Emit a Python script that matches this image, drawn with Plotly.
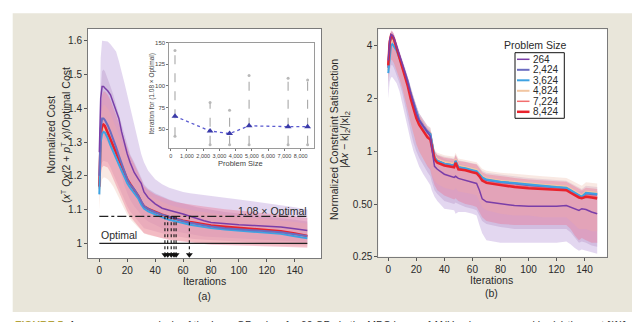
import plotly.graph_objects as go

FONT = "Liberation Sans, Arial, sans-serif"
TXT = "#2a2a2a"

# ---------------- data ----------------
sizes = ["264", "2,424", "3,624", "4,824", "7,224", "8,424"]
size_vals = [264, 2424, 3624, 4824, 7224, 8424]
colors = ["#7a3ea8", "#6a6cc0", "#3ea2e2", "#f2c6a2", "#f26e6e", "#e8222c"]
widths = [1.5, 2.0, 2.0, 2.0, 1.5, 2.5]

# panel (a): normalized cost
ia = [0, 1, 2, 3, 4, 6, 8, 10, 12, 14, 16, 18, 20, 22, 25, 28, 30, 32, 35, 40,
      45, 50, 55, 60, 65, 70, 75, 80, 90, 100, 110, 120, 130, 140, 149]
a_264 = [1.27, 1.43, 1.465, 1.465, 1.46, 1.452, 1.44, 1.415, 1.395, 1.37, 1.33, 1.295, 1.265, 1.24, 1.21,
         1.19, 1.178, 1.152, 1.135, 1.117, 1.104, 1.098, 1.093, 1.087, 1.08, 1.073, 1.067, 1.062, 1.058, 1.055,
         1.053, 1.051, 1.048, 1.043, 1.038]
a_2424 = [1.2, 1.34, 1.37, 1.37, 1.365, 1.35, 1.33, 1.31, 1.285, 1.26, 1.235, 1.21, 1.19, 1.175, 1.16,
          1.14, 1.125, 1.11, 1.102, 1.092, 1.085, 1.078, 1.072, 1.066, 1.061, 1.057, 1.053, 1.05, 1.045, 1.042,
          1.039, 1.036, 1.033, 1.027, 1.022]
a_3624 = [1.145, 1.3, 1.325, 1.33, 1.328, 1.312, 1.29, 1.27, 1.25, 1.232, 1.215, 1.197, 1.178, 1.165, 1.15,
          1.132, 1.115, 1.103, 1.095, 1.085, 1.077, 1.07, 1.064, 1.06, 1.055, 1.051, 1.048, 1.045, 1.041, 1.038,
          1.035, 1.032, 1.028, 1.021, 1.015]
a_4824 = [1.16, 1.31, 1.34, 1.34, 1.336, 1.32, 1.298, 1.278, 1.258, 1.24, 1.222, 1.204, 1.185, 1.171, 1.155,
          1.136, 1.119, 1.107, 1.099, 1.089, 1.081, 1.074, 1.068, 1.063, 1.058, 1.054, 1.05, 1.047, 1.043, 1.04,
          1.037, 1.034, 1.03, 1.024, 1.018]
a_7224 = [1.165, 1.315, 1.345, 1.347, 1.343, 1.325, 1.302, 1.282, 1.262, 1.243, 1.226, 1.208, 1.188, 1.175, 1.158,
          1.139, 1.121, 1.109, 1.101, 1.092, 1.084, 1.077, 1.071, 1.066, 1.062, 1.058, 1.055, 1.052, 1.048, 1.045,
          1.042, 1.039, 1.035, 1.028, 1.021]
a_8424 = [1.168, 1.32, 1.35, 1.352, 1.348, 1.328, 1.305, 1.285, 1.265, 1.245, 1.228, 1.21, 1.19, 1.177, 1.16,
          1.14, 1.122, 1.11, 1.102, 1.093, 1.085, 1.078, 1.072, 1.067, 1.063, 1.059, 1.056, 1.053, 1.049, 1.046,
          1.043, 1.04, 1.036, 1.029, 1.022]
a_264_hi = [1.3, 1.55, 1.6, 1.6, 1.6, 1.598, 1.59, 1.58, 1.568, 1.54, 1.51, 1.475, 1.44, 1.405, 1.35,
            1.3, 1.265, 1.24, 1.215, 1.19, 1.175, 1.165, 1.158, 1.152, 1.148, 1.145, 1.142, 1.14, 1.135, 1.13,
            1.125, 1.12, 1.113, 1.107, 1.1]
a_264_lo = [1.2, 1.3, 1.32, 1.32, 1.31, 1.3, 1.285, 1.27, 1.25, 1.23, 1.2, 1.17, 1.15, 1.13, 1.11,
            1.095, 1.085, 1.075, 1.065, 1.055, 1.045, 1.04, 1.035, 1.03, 1.027, 1.024, 1.02, 1.018, 1.015, 1.013,
            1.011, 1.01, 1.008, 1.006, 1.004]
a_2424_hi = [1.22, 1.45, 1.51, 1.515, 1.51, 1.49, 1.465, 1.44, 1.41, 1.38, 1.35, 1.32, 1.29, 1.265, 1.24,
             1.215, 1.195, 1.175, 1.162, 1.148, 1.138, 1.13, 1.124, 1.118, 1.112, 1.107, 1.103, 1.099, 1.093, 1.088,
             1.084, 1.08, 1.076, 1.07, 1.065]
a_2424_lo = [1.17, 1.22, 1.24, 1.245, 1.245, 1.24, 1.225, 1.21, 1.19, 1.17, 1.15, 1.13, 1.11, 1.095, 1.08,
             1.065, 1.055, 1.045, 1.04, 1.035, 1.03, 1.025, 1.02, 1.017, 1.014, 1.012, 1.01, 1.008, 1.006, 1.004,
             1.002, 1.0, 0.998, 0.996, 0.994]
a_4824_hi = [1.18, 1.36, 1.4, 1.41, 1.41, 1.4, 1.385, 1.365, 1.345, 1.322, 1.3, 1.278, 1.255, 1.238, 1.215,
             1.192, 1.172, 1.155, 1.145, 1.132, 1.122, 1.114, 1.108, 1.103, 1.099, 1.095, 1.092, 1.089, 1.084, 1.08,
             1.076, 1.073, 1.069, 1.063, 1.058]
a_4824_lo = [1.1, 1.17, 1.19, 1.195, 1.195, 1.19, 1.18, 1.168, 1.152, 1.135, 1.118, 1.1, 1.085, 1.072, 1.06,
             1.048, 1.038, 1.03, 1.025, 1.02, 1.016, 1.012, 1.009, 1.006, 1.004, 1.002, 1.0, 0.999, 0.997, 0.995,
             0.994, 0.993, 0.992, 0.991, 0.99]
a_8424_hi = [1.2, 1.4, 1.44, 1.45, 1.45, 1.44, 1.425, 1.405, 1.38, 1.355, 1.33, 1.305, 1.28, 1.26, 1.235,
             1.21, 1.19, 1.17, 1.158, 1.145, 1.136, 1.128, 1.122, 1.118, 1.115, 1.112, 1.109, 1.106, 1.101, 1.097,
             1.093, 1.09, 1.085, 1.08, 1.075]
a_8424_lo = [1.14, 1.2, 1.225, 1.23, 1.23, 1.225, 1.21, 1.195, 1.175, 1.155, 1.135, 1.115, 1.095, 1.08, 1.065,
             1.05, 1.04, 1.03, 1.025, 1.02, 1.015, 1.01, 1.007, 1.004, 1.002, 1.0, 0.998, 0.996, 0.994, 0.992,
             0.991, 0.99, 0.989, 0.988, 0.987]
threshold = 1.08
optimal = 1.0
ref_x = [0, 149]
arrow_iters = [47, 49, 51.5, 53.5, 55, 64.5]
arrow_bottom = 0.966

# inset: iterations to reach 1.08 x optimal
inset_mean = [65, 48, 45, 54, 53, 53]
inset_lo = [42, 32, 32, 32, 32, 32]
inset_hi = [141, 81, 72, 112, 109, 107]
inset_xticks = [0, 1000, 2000, 3000, 4000, 5000, 6000, 7000, 8000]
inset_xlabels = ["0", "1,000", "2,000", "3,000", "4,000", "5,000", "6,000", "7,000", "8,000"]

# panel (b): normalized constraint satisfaction (log)
ib = [0, 1, 2, 3, 4, 6, 8, 10, 12, 14, 16, 18, 20, 22, 25, 28, 30, 31, 33, 35, 40, 47, 48, 50, 55,
      60, 63, 65, 67, 70, 80, 90, 100, 110, 120, 127, 130, 133, 136, 138, 141, 145, 149]
b_264 = [3.3, 4.3, 4.65, 4.6, 4.45, 4.0, 3.55, 3.15, 2.8, 2.45, 2.1, 1.85, 1.65, 1.5, 1.38, 1.28, 1.22, 1.05,
         0.82, 0.79, 0.74, 0.71, 0.72, 0.7, 0.68, 0.665, 0.655, 0.6, 0.535, 0.515, 0.5, 0.49, 0.485, 0.485, 0.485,
         0.49, 0.48, 0.47, 0.46, 0.47, 0.465, 0.45, 0.44]
b_2424 = [3.0, 4.1, 4.5, 4.5, 4.35, 3.9, 3.5, 3.15, 2.8, 2.5, 2.15, 1.9, 1.68, 1.52, 1.4, 1.3, 1.26, 1.12,
          0.92, 0.88, 0.85, 0.83, 0.88, 0.81, 0.795, 0.78, 0.765, 0.735, 0.705, 0.685, 0.665, 0.655, 0.64, 0.632,
          0.622, 0.615, 0.595, 0.575, 0.555, 0.548, 0.575, 0.57, 0.565]
b_3624 = [2.8, 3.6, 4.05, 4.1, 4.0, 3.75, 3.4, 3.05, 2.75, 2.45, 2.1, 1.87, 1.66, 1.5, 1.38, 1.28, 1.25, 1.12,
          0.92, 0.88, 0.85, 0.83, 0.88, 0.81, 0.8, 0.78, 0.77, 0.74, 0.71, 0.69, 0.67, 0.66, 0.645, 0.635,
          0.625, 0.62, 0.6, 0.58, 0.56, 0.55, 0.58, 0.575, 0.57]
b_4824 = [2.9, 3.9, 4.3, 4.3, 4.2, 3.8, 3.45, 3.1, 2.78, 2.48, 2.12, 1.88, 1.67, 1.52, 1.4, 1.3, 1.27, 1.14,
          0.94, 0.9, 0.87, 0.85, 0.9, 0.83, 0.815, 0.795, 0.785, 0.75, 0.72, 0.7, 0.68, 0.67, 0.655, 0.645,
          0.635, 0.63, 0.61, 0.59, 0.57, 0.56, 0.59, 0.585, 0.58]
b_7224 = [3.0, 4.1, 4.5, 4.45, 4.3, 3.85, 3.42, 3.03, 2.7, 2.38, 2.03, 1.78, 1.58, 1.45, 1.32, 1.22, 1.19, 1.09,
          0.91, 0.87, 0.84, 0.82, 0.87, 0.8, 0.79, 0.77, 0.76, 0.73, 0.69, 0.67, 0.65, 0.635, 0.625, 0.62,
          0.612, 0.607, 0.59, 0.57, 0.555, 0.55, 0.56, 0.555, 0.548]
b_8424 = [3.1, 4.2, 4.6, 4.55, 4.4, 3.9, 3.45, 3.05, 2.7, 2.35, 2.0, 1.75, 1.55, 1.42, 1.3, 1.2, 1.17, 1.08,
          0.9, 0.86, 0.83, 0.81, 0.86, 0.79, 0.78, 0.76, 0.75, 0.72, 0.68, 0.66, 0.64, 0.625, 0.615, 0.61,
          0.605, 0.6, 0.58, 0.56, 0.545, 0.54, 0.55, 0.545, 0.538]
b_264_lo = [2.0, 2.5, 2.65, 2.65, 2.6, 2.45, 2.2, 1.9, 1.6, 1.35, 1.15, 1.0, 0.9, 0.82, 0.74, 0.68, 0.64, 0.6,
            0.55, 0.52, 0.47, 0.46, 0.44, 0.45, 0.45, 0.44, 0.43, 0.38, 0.34, 0.31, 0.3, 0.3, 0.3, 0.3, 0.3,
            0.305, 0.295, 0.28, 0.27, 0.275, 0.27, 0.265, 0.26]
b_264_hi = [3.6, 4.5, 4.85, 4.8, 4.65, 4.2, 3.75, 3.35, 3.0, 2.65, 2.3, 2.05, 1.82, 1.65, 1.5, 1.38, 1.32, 1.2,
            1.0, 0.95, 0.9, 0.87, 0.9, 0.85, 0.83, 0.81, 0.8, 0.76, 0.72, 0.7, 0.68, 0.66, 0.65, 0.64, 0.63,
            0.625, 0.61, 0.6, 0.59, 0.59, 0.6, 0.595, 0.59]
b_2424_lo = [2.3, 2.9, 3.1, 3.1, 3.0, 2.75, 2.45, 2.15, 1.85, 1.55, 1.3, 1.12, 1.0, 0.92, 0.83, 0.76, 0.72, 0.67,
             0.6, 0.57, 0.52, 0.5, 0.51, 0.5, 0.48, 0.47, 0.46, 0.43, 0.4, 0.385, 0.37, 0.36, 0.36, 0.36, 0.36,
             0.36, 0.345, 0.32, 0.3, 0.305, 0.3, 0.29, 0.285]
b_2424_hi = [3.3, 4.4, 4.8, 4.8, 4.65, 4.15, 3.72, 3.35, 3.0, 2.68, 2.32, 2.05, 1.82, 1.65, 1.52, 1.4, 1.36, 1.22,
             1.0, 0.96, 0.93, 0.91, 0.96, 0.89, 0.875, 0.86, 0.845, 0.81, 0.775, 0.755, 0.735, 0.72, 0.705, 0.695,
             0.685, 0.68, 0.66, 0.64, 0.62, 0.61, 0.635, 0.63, 0.625]
b_4824_lo = [2.5, 3.1, 3.3, 3.3, 3.2, 2.9, 2.6, 2.3, 2.0, 1.7, 1.45, 1.25, 1.1, 1.0, 0.9, 0.83, 0.8, 0.74,
             0.68, 0.65, 0.62, 0.6, 0.62, 0.59, 0.58, 0.57, 0.56, 0.52, 0.48, 0.46, 0.44, 0.43, 0.43, 0.42, 0.42,
             0.42, 0.4, 0.38, 0.36, 0.36, 0.36, 0.35, 0.35]
b_4824_hi = [3.2, 4.2, 4.6, 4.6, 4.5, 4.05, 3.68, 3.3, 2.97, 2.66, 2.28, 2.02, 1.8, 1.64, 1.51, 1.4, 1.37, 1.23,
             1.02, 0.98, 0.95, 0.93, 0.98, 0.91, 0.895, 0.875, 0.865, 0.83, 0.795, 0.775, 0.755, 0.745, 0.73, 0.72,
             0.71, 0.705, 0.685, 0.665, 0.645, 0.635, 0.665, 0.66, 0.655]
b_8424_lo = [2.6, 3.2, 3.35, 3.3, 3.2, 2.9, 2.6, 2.3, 2.0, 1.7, 1.45, 1.25, 1.1, 1.0, 0.9, 0.82, 0.78, 0.72,
             0.64, 0.6, 0.56, 0.53, 0.54, 0.52, 0.5, 0.49, 0.48, 0.45, 0.42, 0.4, 0.385, 0.38, 0.38, 0.38, 0.38,
             0.38, 0.36, 0.33, 0.31, 0.32, 0.31, 0.3, 0.3]
b_8424_hi = [3.4, 4.5, 4.9, 4.85, 4.7, 4.2, 3.7, 3.3, 2.95, 2.6, 2.25, 1.98, 1.75, 1.6, 1.46, 1.35, 1.3, 1.2,
             1.0, 0.95, 0.92, 0.9, 0.95, 0.88, 0.87, 0.85, 0.84, 0.8, 0.76, 0.74, 0.72, 0.705, 0.69, 0.68, 0.675,
             0.67, 0.65, 0.63, 0.61, 0.6, 0.62, 0.615, 0.61]

a_ticks = [1, 1.1, 1.2, 1.3, 1.4, 1.5, 1.6]
a_ticklabels = ["1", "1.1", "1.2", "1.3", "1.4", "1.5", "1.6"]
x_ticks = [0, 20, 40, 60, 80, 100, 120, 140]
b_ticks = [0.25, 0.5, 1, 2, 4]
b_ticklabels = ["0.25", "0.50", "1", "2", "4"]

caption = ("<b><span style='color:#b3a23c'>FIGURE 5</span></b>  A convergence analysis of the Lava QP solver "
           "for 60 QPs in the MPC loops of ANYmal as measured by (a) the cost [(1)]")

# ---------------- figure ----------------
# the page body has an 8px default margin: the figure fills the rest of the 640x322 window
OFF = 8
W, H = 640 - OFF, 322 - OFF


def px_x(p):
    return (p - OFF) / W


def px_y(p):
    return 1 - (p - OFF) / H


fig = go.Figure()

band_fill = ["rgba(200,175,226,0.5)", "rgba(178,140,195,0.35)", "rgba(240,200,185,0.4)", "rgba(236,118,148,0.4)"]


def add_band(x, lo, hi, color, xa, ya):
    fig.add_trace(go.Scatter(x=list(x) + list(x)[::-1], y=list(hi) + list(lo)[::-1], fill="toself",
                             fillcolor=color, line=dict(width=0), mode="lines", hoverinfo="skip",
                             showlegend=False, xaxis=xa, yaxis=ya))


# panel (a)
for lo, hi, c in zip([a_264_lo, a_2424_lo, a_4824_lo, a_8424_lo], [a_264_hi, a_2424_hi, a_4824_hi, a_8424_hi], band_fill):
    add_band(ia, lo, hi, c, "x", "y")

a_series = [a_264, a_2424, a_3624, a_4824, a_7224, a_8424]
for k in [3, 4, 5, 2, 1, 0]:
    fig.add_trace(go.Scatter(x=ia, y=a_series[k], mode="lines", line=dict(color=colors[k], width=widths[k]),
                             name=sizes[k], showlegend=False, xaxis="x", yaxis="y"))

fig.add_trace(go.Scatter(x=ref_x, y=[threshold, threshold], mode="lines",
                         line=dict(color="#222", width=1.2, dash="dashdot"), showlegend=False, xaxis="x", yaxis="y"))
fig.add_trace(go.Scatter(x=ref_x, y=[optimal, optimal], mode="lines",
                         line=dict(color="#222", width=1.2), showlegend=False, xaxis="x", yaxis="y"))
ax_x, ax_y = [], []
for it in arrow_iters:
    ax_x += [it, it, None]
    ax_y += [threshold, arrow_bottom + 0.004, None]
fig.add_trace(go.Scatter(x=ax_x, y=ax_y, mode="lines", line=dict(color="#111", width=1.1, dash="dot"),
                         showlegend=False, xaxis="x", yaxis="y"))
fig.add_trace(go.Scatter(x=arrow_iters, y=[arrow_bottom] * len(arrow_iters), mode="markers",
                         marker=dict(symbol="triangle-down", size=6, color="#111"),
                         showlegend=False, xaxis="x", yaxis="y"))

# inset
ex, ey = [], []
for s, lo, hi in zip(size_vals, inset_lo, inset_hi):
    ex += [s, s, None]
    ey += [lo, hi, None]
fig.add_trace(go.Scatter(x=ex, y=ey, mode="lines+markers", line=dict(color="#a8a8a8", width=1.1, dash="dash"),
                         marker=dict(symbol="circle", size=3, color="#b8b8b8"),
                         showlegend=False, xaxis="x3", yaxis="y3"))
fig.add_trace(go.Scatter(x=size_vals, y=inset_mean, mode="lines+markers",
                         line=dict(color="#5b5bd0", width=1.3, dash="dot"),
                         marker=dict(symbol="triangle-up", size=6, color="#3a3aa8"),
                         showlegend=False, xaxis="x3", yaxis="y3"))

# panel (b)
for lo, hi, c in zip([b_264_lo, b_2424_lo, b_4824_lo, b_8424_lo], [b_264_hi, b_2424_hi, b_4824_hi, b_8424_hi], band_fill):
    add_band(ib, lo, hi, c, "x2", "y2")
b_series = [b_264, b_2424, b_3624, b_4824, b_7224, b_8424]
for k in [3, 4, 1, 2, 5, 0]:
    fig.add_trace(go.Scatter(x=ib, y=b_series[k], mode="lines", line=dict(color=colors[k], width=widths[k]),
                             name=sizes[k], showlegend=False, xaxis="x2", yaxis="y2"))

axis_common = dict(showline=True, mirror=True, linecolor="#7a7a7a", linewidth=1, ticks="outside",
                   ticklen=3, tickcolor="#555", showgrid=False, zeroline=False, automargin=False,
                   tickfont=dict(family=FONT, size=10, color=TXT))
inset_common = dict(showline=True, mirror=True, linecolor="#9a9a9a", linewidth=1, ticks="outside",
                    ticklen=2, tickcolor="#777", showgrid=False, zeroline=False, automargin=False, tickangle=0)

fig.update_layout(
    template="none",
    width=W, height=H, margin=dict(l=0, r=0, t=0, b=0, pad=0, autoexpand=False),
    paper_bgcolor="#e9e6da", plot_bgcolor="white", showlegend=False,
    font=dict(family=FONT, color=TXT),
    xaxis=dict(domain=[px_x(88), px_x(321)], range=[-8.1, 158.8], tickvals=x_ticks, anchor="y", **axis_common),
    yaxis=dict(domain=[px_y(258), px_y(29)], range=[0.9565, 1.635], tickvals=a_ticks, ticktext=a_ticklabels,
               anchor="x", **axis_common),
    xaxis2=dict(domain=[px_x(378.3), px_x(607.3)], range=[-7.1, 156.2], tickvals=x_ticks, anchor="y2",
                **axis_common),
    yaxis2=dict(domain=[px_y(256.7), px_y(29.3)], type="log", range=[-0.602, 0.697], tickvals=b_ticks,
                ticktext=b_ticklabels, anchor="x2", **axis_common),
    xaxis3=dict(domain=[px_x(169.3), px_x(314)], range=[-86, 8818], tickvals=inset_xticks, ticktext=inset_xlabels,
                anchor="y3", tickfont=dict(family=FONT, size=5.5, color="#444"), **inset_common),
    yaxis3=dict(domain=[px_y(148.3), px_y(42.7)], range=[28, 150], tickvals=[50, 75, 100, 125, 150],
                anchor="x3", tickfont=dict(family=FONT, size=6, color="#444"), **inset_common),
)

shapes = [
    dict(type="rect", xref="paper", yref="paper", x0=0, x1=1, y0=px_y(13.3), y1=1, fillcolor="white",
         line=dict(width=0), layer="below"),
    dict(type="rect", xref="paper", yref="paper", x0=0, x1=px_x(12.7), y0=0, y1=1, fillcolor="white",
         line=dict(width=0), layer="below"),
    dict(type="rect", xref="paper", yref="paper", x0=0, x1=1, y0=0, y1=px_y(312), fillcolor="white",
         line=dict(width=0), layer="below"),
    dict(type="rect", xref="paper", yref="paper", x0=px_x(638), x1=1, y0=0, y1=1, fillcolor="white",
         line=dict(width=0), layer="below"),
    dict(type="rect", xref="paper", yref="paper", x0=px_x(515), x1=px_x(564.3), y0=px_y(118.3), y1=px_y(52.7),
         fillcolor="white", line=dict(color="#111", width=1)),
]
annotations = []


def label(xp, yp, text, size=10.5, color=TXT, angle=0, xanchor="center", yanchor="middle"):
    annotations.append(dict(x=px_x(xp), y=px_y(yp), xref="paper", yref="paper", text=text, showarrow=False,
                            textangle=angle, xanchor=xanchor, yanchor=yanchor,
                            font=dict(family=FONT, size=size, color=color)))


leg_y = [59.3, 69.8, 80.3, 90.8, 101.3, 111.8]
for k in range(6):
    shapes.append(dict(type="line", xref="paper", yref="paper", x0=px_x(517), x1=px_x(529.5),
                       y0=px_y(leg_y[k]), y1=px_y(leg_y[k]), line=dict(color=colors[k], width=widths[k])))
    label(530.5, leg_y[k], sizes[k], size=10, xanchor="left")
label(535, 45, "Problem Size")

# axis titles
label(50.5, 135, "Normalized Cost", angle=-90)
label(65, 135, "(<i>x</i><sup>T</sup> <i>Qx</i>/2 + <i>p</i><sup>T</sup> <i>x</i>)/Optimal Cost", angle=-90)
label(204, 281, "Iterations")
label(204, 295.5, "(a)")
label(334, 140, "Normalized Constraint Satisfaction", angle=-90)
label(345, 140, "|<i>Ax</i> − k|<sub>2</sub>/|x|<sub>2</sub>", angle=-90)
label(491.7, 279.5, "Iterations")
label(491.7, 293, "(b)")
label(151.5, 94, "Iteration for (1.08 × Optimal)", size=6.5, color="#444", angle=-90)
label(240, 163.5, "Problem Size", size=7.5, color="#444")
label(13, 316.5, caption, size=10.5, color="#333", xanchor="left", yanchor="top")

annotations += [
    dict(x=124, y=1.096, xref="x", yref="y", text="1.08 × Optimal", showarrow=False, xanchor="center",
         yanchor="middle", font=dict(family=FONT, size=10.5, color=TXT)),
    dict(x=0, y=1.025, xref="x", yref="y", text="Optimal", xanchor="left", yanchor="middle", showarrow=False,
         font=dict(family=FONT, size=10.5, color=TXT)),
]
fig.update_layout(shapes=shapes, annotations=annotations)

fig.write_html("out.html")
